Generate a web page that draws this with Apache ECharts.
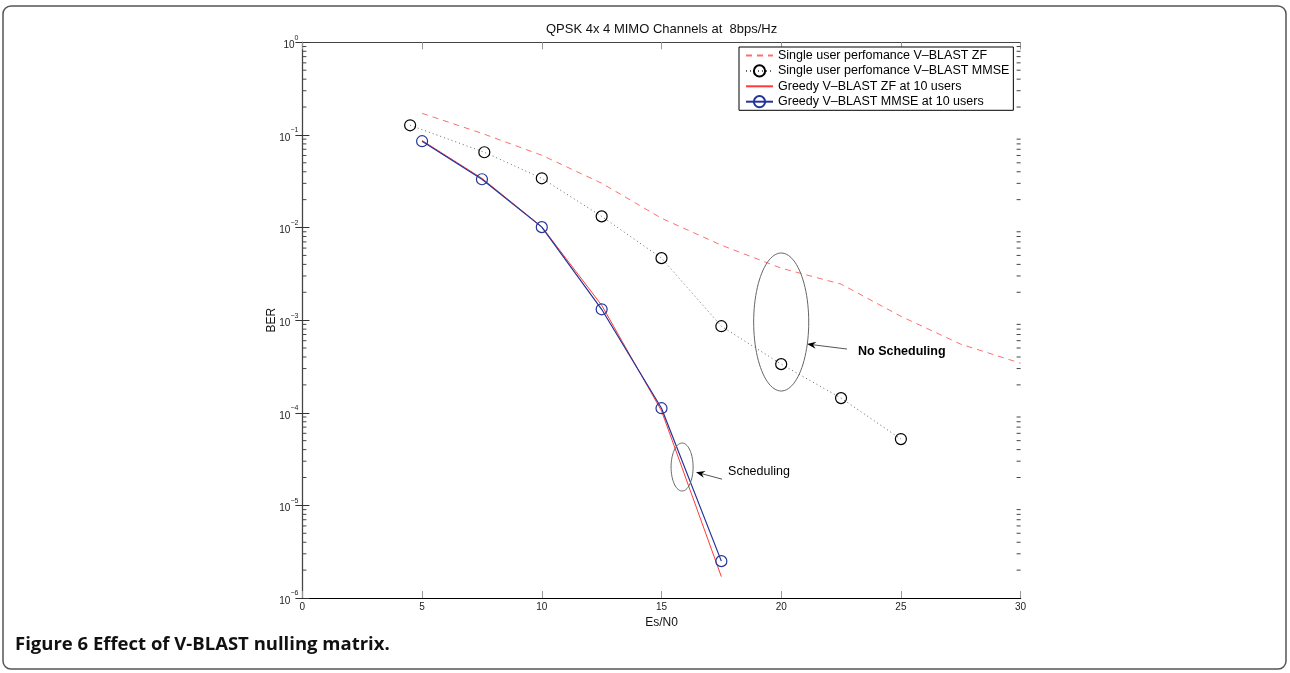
<!DOCTYPE html>
<html><head><meta charset="utf-8">
<script src="https://cdn.jsdelivr.net/npm/echarts@6/dist/echarts.min.js"></script>
<style>html,body{margin:0;padding:0;background:#fff}#c{width:1290px;height:673px}</style>
</head><body><div id="c"></div>
<script>
// ---- data ----
const xSingleZF   = [5, 7.5, 10, 12.5, 15, 17.5, 20, 22.5, 25, 27.5, 30];
const berSingleZF = [0.171, 0.104, 0.0603, 0.0301, 0.0126, 0.00645, 0.00364, 0.00245, 0.0011, 0.00055, 0.000343];
const xSingleMMSE   = [4.5, 7.6, 10, 12.5, 15, 17.5, 20, 22.5, 25];
const berSingleMMSE = [0.127, 0.065, 0.034, 0.0132, 0.00467, 0.00086, 0.000335, 0.000144, 0.000052];
const xGreedy       = [5, 7.5, 10, 12.5, 15, 17.5];
const berGreedyZF   = [0.087, 0.034, 0.0102, 0.00145, 0.000105, 0.0000017];
const berGreedyMMSE = [0.0855, 0.0332, 0.0101, 0.00131, 0.000112, 0.0000025];
const seriesNames = [
  'Single user perfomance V\u2013BLAST ZF',
  'Single user perfomance V\u2013BLAST MMSE',
  'Greedy V\u2013BLAST ZF at 10 users',
  'Greedy V\u2013BLAST MMSE at 10 users'
];
const xTicks = [0, 5, 10, 15, 20, 25, 30];
const decades = [-6, -5, -4, -3, -2, -1, 0];
const titleText = 'QPSK 4x 4 MIMO Channels at  8bps/Hz';
const captionBold = 'Figure 6';
const captionText = ' Effect of V-BLAST nulling matrix.';
// annotations in data coordinates: [x, log10(BER)]
const bigEllipse   = {cx: 20, cly: -3.02, a: 1.15, b: 0.745};
const smallEllipse = {cx: 15.86, cly: -4.586, a: 0.46, b: 0.259};
const arrowNoSched = {from: [22.75, -3.312], to: [21.08, -3.258], label: 'No Scheduling', at: [23.21, -3.334]};
const arrowSched   = {from: [17.53, -4.717], to: [16.44, -4.641], label: 'Scheduling', at: [17.78, -4.63]};

const FONT = 'Liberation Sans, Arial, Helvetica, sans-serif';
const zip = (xs, ys) => xs.map((x, i) => [x, ys[i]]);
const minorTicks = [];
for (let k = -6; k < 0; k++) for (let m = 2; m <= 9; m++) minorTicks.push([0, m * Math.pow(10, k)]);

const chart = echarts.init(document.getElementById('c'), null, {renderer: 'canvas'});
const supFmt = v => {
  const e = Math.round(Math.log10(v));
  return '{b|10}{s|' + (e < 0 ? '\u2212' + (-e) : e) + '}';
};
const yBase = {
  type: 'log', logBase: 10, min: 1e-6, max: 1, splitNumber: 6,
  splitLine: {show: false},
  axisTick: {inside: true, length: 7, lineStyle: {color: '#333'}},
};
const xBase = {
  type: 'value', min: 0, max: 30, interval: 5,
  splitLine: {show: false},
  axisTick: {inside: true, length: 7, lineStyle: {color: '#999'}},
};
chart.setOption({
  animation: false,
  backgroundColor: '#fff',
  title: {text: titleText, left: 546, top: 23, padding: 0,
    textStyle: {fontFamily: FONT, fontSize: 13, fontWeight: 'normal', color: '#111'}},
  grid: {left: 302.4, right: 269.4, top: 42.3, bottom: 75, containLabel: false},
  legend: {
    data: [
      {name: seriesNames[0], itemStyle: {opacity: 0}},
      {name: seriesNames[1]},
      {name: seriesNames[2], itemStyle: {opacity: 0}},
      {name: seriesNames[3]}
    ],
    orient: 'vertical', left: 739, top: 47,
    itemWidth: 27, itemHeight: 14, itemGap: 2.3, padding: [2, 4, 2, 6],
    borderColor: '#000', borderWidth: 1, backgroundColor: '#fff',
    textStyle: {fontFamily: FONT, fontSize: 12.5, color: '#000'}
  },
  xAxis: [
    Object.assign({}, xBase, {position: 'bottom',
      axisLine: {lineStyle: {color: '#000', width: 1.2}},
      axisLabel: {fontFamily: FONT, fontSize: 10, color: '#222', margin: 4},
      name: 'Es/N0', nameLocation: 'middle', nameGap: 19, nameMoveOverlap: false,
      nameTextStyle: {fontFamily: FONT, fontSize: 12, color: '#111', verticalAlign: 'top'}}),
    Object.assign({}, xBase, {position: 'top',
      axisLine: {lineStyle: {color: '#444', width: 1}},
      axisLabel: {show: false}})
  ],
  yAxis: [
    Object.assign({}, yBase, {position: 'left',
      axisLine: {lineStyle: {color: '#000', width: 1.2}},
      axisLabel: {formatter: supFmt, margin: 4,
        rich: {
          b: {fontFamily: FONT, fontSize: 10, color: '#222', verticalAlign: 'bottom', lineHeight: 16},
          s: {fontFamily: FONT, fontSize: 7, color: '#222', verticalAlign: 'top', lineHeight: 16}
        }},
      name: 'BER', nameLocation: 'middle', nameGap: 25, nameRotate: 90, nameMoveOverlap: false,
      nameTextStyle: {fontFamily: FONT, fontSize: 12, color: '#111'}}),
    Object.assign({}, yBase, {position: 'right',
      axisLine: {lineStyle: {color: '#444', width: 1}},
      axisLabel: {show: false}})
  ],
  series: [
    {name: seriesNames[0], type: 'line', data: zip(xSingleZF, berSingleZF),
      symbol: 'none', color: '#ff6f6f',
      lineStyle: {color: '#ff6f6f', width: 1, type: [6, 5]}},
    {name: seriesNames[1], type: 'line', data: zip(xSingleMMSE, berSingleMMSE),
      symbol: 'circle', symbolSize: 11, color: '#000',
      itemStyle: {color: 'rgba(255,255,255,0)', borderColor: '#000', borderWidth: 1.2},
      lineStyle: {color: '#666', width: 1, type: [1, 3]}},
    {name: seriesNames[2], type: 'line', data: zip(xGreedy, berGreedyZF),
      symbol: 'none', color: '#ff2a2a',
      lineStyle: {color: '#ff3a3a', width: 1}},
    {name: seriesNames[3], type: 'line', data: zip(xGreedy, berGreedyMMSE),
      symbol: 'circle', symbolSize: 11, color: '#23349a',
      itemStyle: {color: 'rgba(255,255,255,0)', borderColor: '#23349a', borderWidth: 1.2},
      lineStyle: {color: '#23349a', width: 1.2}},
    {type: 'custom', data: minorTicks, silent: true, z: 3, clip: false,
      renderItem: (params, api) => {
        const v = api.value(1);
        const l = api.coord([0, v]);
        const r = api.coord([30, v]);
        return {type: 'group', children: [
          {type: 'line', shape: {x1: l[0], y1: l[1], x2: l[0] + 4, y2: l[1]}, style: {stroke: '#444', lineWidth: 1}},
          {type: 'line', shape: {x1: r[0] - 4, y1: r[1], x2: r[0], y2: r[1]}, style: {stroke: '#444', lineWidth: 1}}
        ]};
      }}
  ]
});

const px = (x, ly) => chart.convertToPixel({seriesIndex: 0}, [x, Math.pow(10, ly)]);
function ellipse(e) {
  const pts = [];
  for (let i = 0; i < 96; i++) {
    const t = 2 * Math.PI * i / 96;
    pts.push(px(e.cx + e.a * Math.cos(t), e.cly + e.b * Math.sin(t)));
  }
  return {type: 'polygon', shape: {points: pts}, style: {fill: null, stroke: '#666', lineWidth: 1}, z: 100};
}
function arrow(a, bold) {
  const s = px(a.from[0], a.from[1]), t = px(a.to[0], a.to[1]);
  const dx = t[0] - s[0], dy = t[1] - s[1], L = Math.hypot(dx, dy);
  const ux = dx / L, uy = dy / L, nx = -uy, ny = ux;
  const bx = t[0] - ux * 9, by = t[1] - uy * 9;
  const mx = t[0] - ux * 6, my = t[1] - uy * 6;
  const p = px(a.at[0], a.at[1]);
  return [
    {type: 'line', shape: {x1: s[0], y1: s[1], x2: mx, y2: my}, style: {stroke: '#555', lineWidth: 1}, z: 100},
    {type: 'polygon', shape: {points: [[t[0], t[1]], [bx + nx * 3.5, by + ny * 3.5], [mx, my], [bx - nx * 3.5, by - ny * 3.5]]},
      style: {fill: '#000'}, z: 100},
    {type: 'text', x: p[0], y: p[1], style: {text: a.label, fontFamily: FONT, fontSize: 12.5,
      fontWeight: bold ? 'bold' : 'normal', fill: '#000', verticalAlign: 'middle', align: 'left'}, z: 100}
  ];
}
chart.setOption({graphic: [
  {type: 'rect', shape: {x: 3, y: 6, width: 1283, height: 663, r: 8},
    style: {fill: null, stroke: '#555', lineWidth: 1.5}, z: 50},
  {type: 'text', x: 15, y: 645, z: 100,
    style: {text: '{a|' + captionBold + '}{b|' + captionText + '}', verticalAlign: 'middle',
      rich: {
        a: {fontFamily: 'Open Sans, Lato, sans-serif', fontWeight: 'bold', fontSize: 18.5, fill: '#111'},
        b: {fontFamily: 'Open Sans, Lato, sans-serif', fontWeight: 'bold', fontSize: 18.5, fill: '#111'}
      }}},
  ellipse(bigEllipse), ellipse(smallEllipse),
  ...arrow(arrowNoSched, true), ...arrow(arrowSched, false)
]});
</script>
</body></html>
